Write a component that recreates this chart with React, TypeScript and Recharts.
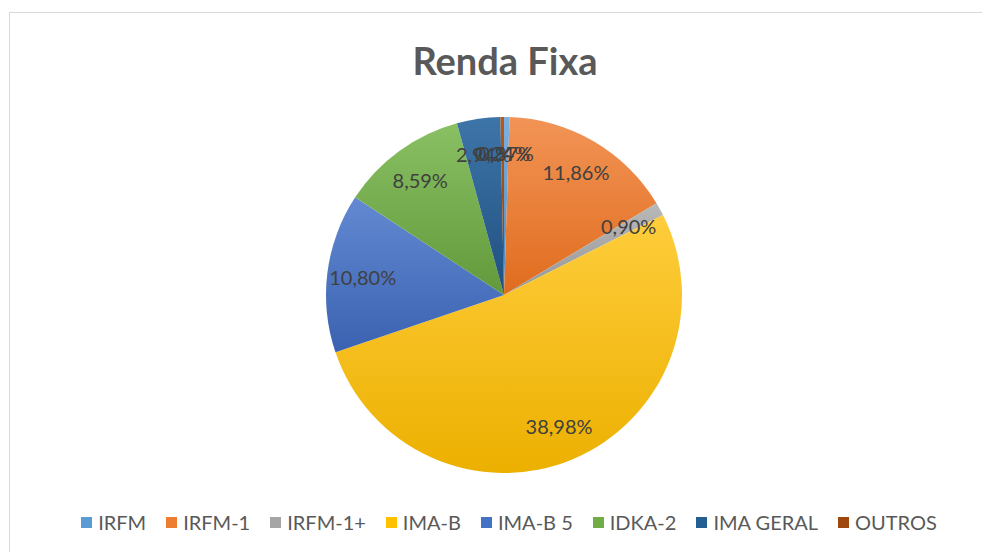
import { PieChart, Pie, Cell } from "recharts";

const categories = [
  "IRFM",
  "IRFM-1",
  "IRFM-1+",
  "IMA-B",
  "IMA-B 5",
  "IDKA-2",
  "IMA GERAL",
  "OUTROS",
];
const values = [0.37, 11.86, 0.9, 38.98, 10.8, 8.59, 2.94, 0.24];
const colors = [
  "#5B9BD5",
  "#ED7D31",
  "#A5A5A5",
  "#FFC000",
  "#4472C4",
  "#70AD47",
  "#255E91",
  "#9E480E",
];
const lightColors = [
  "#7DB1E0",
  "#F29456",
  "#B8B8B8",
  "#FFCD3C",
  "#6389D2",
  "#89C063",
  "#3E75A8",
  "#B35A1C",
];
const darkColors = [
  "#4A88C2",
  "#E06C1E",
  "#979797",
  "#ECB000",
  "#3A62B0",
  "#62993B",
  "#1F5080",
  "#8A3D0B",
];

const data = categories.map((name, i) => ({ name, value: values[i] }));

const FONT = "Lato, 'Open Sans', sans-serif";
const RAD = Math.PI / 180;

const renderLabel = (props: any) => {
  const { cx, cy, midAngle, outerRadius, value } = props;
  const r = outerRadius * 0.8;
  const x = cx + r * Math.cos(-midAngle * RAD);
  const y = cy + r * Math.sin(-midAngle * RAD);
  return (
    <text
      x={x}
      y={y}
      fill="#404040"
      fontSize={20}
      fontFamily={FONT}
      textAnchor="middle"
      dominantBaseline="central"
    >
      {value.toFixed(2).replace(".", ",") + "%"}
    </text>
  );
};

export default function App() {
  return (
    <div
      style={{
        position: "absolute",
        left: 9,
        top: 12,
        width: 1000,
        height: 600,
        borderLeft: "1.5px solid #d9d9d9",
        borderTop: "1.5px solid #d9d9d9",
        background: "#fff",
      }}
    >
      <div
        style={{
          position: "absolute",
          left: 0,
          width: 990,
          top: 24,
          textAlign: "center",
          fontFamily: FONT,
          fontWeight: 700,
          fontSize: 38,
          color: "#595959",
        }}
      >
        Renda Fixa
      </div>
      <PieChart width={990} height={540}>
        <defs>
          {colors.map((_, i) => (
            <linearGradient key={i} id={`g${i}`} x1="0" y1="0" x2="0" y2="1">
              <stop offset="0%" stopColor={lightColors[i]} />
              <stop offset="100%" stopColor={darkColors[i]} />
            </linearGradient>
          ))}
        </defs>
        <Pie
          data={data}
          dataKey="value"
          nameKey="name"
          cx={489}
          cy={277}
          outerRadius={178}
          startAngle={90}
          endAngle={-270}
          stroke="none"
          label={renderLabel}
          labelLine={false}
          isAnimationActive={false}
        >
          {data.map((_, i) => (
            <Cell key={`cell-${i}`} fill={`url(#g${i})`} />
          ))}
        </Pie>
      </PieChart>
      <div
        style={{
          position: "absolute",
          left: 0,
          width: 998,
          top: 497,
          display: "flex",
          justifyContent: "center",
          gap: 20,
          fontFamily: FONT,
          fontSize: 20,
          color: "#595959",
        }}
      >
        {categories.map((c, i) => (
          <div key={c} style={{ display: "flex", alignItems: "center", gap: 6 }}>
            <span
              style={{
                width: 11,
                height: 11,
                background: colors[i],
                display: "inline-block",
              }}
            />
            <span>{c}</span>
          </div>
        ))}
      </div>
    </div>
  );
}
